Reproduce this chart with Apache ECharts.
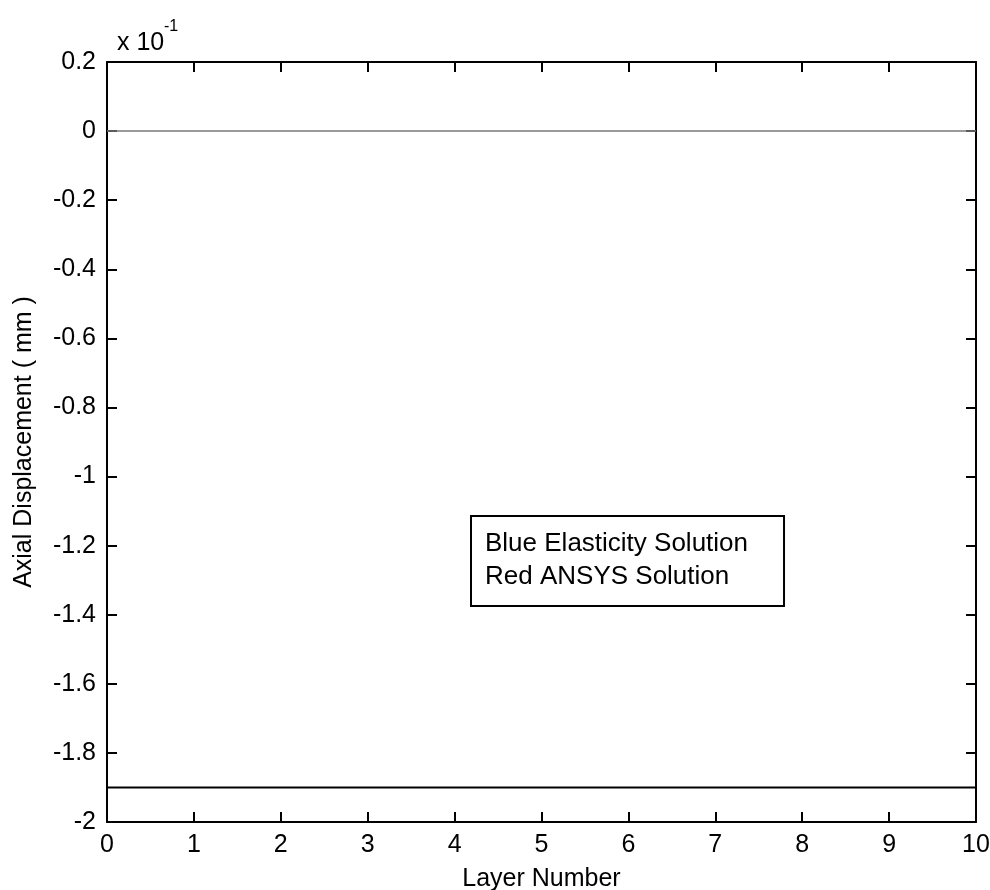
<!DOCTYPE html>
<html>
<head>
<meta charset="utf-8">
<script src="https://cdn.jsdelivr.net/npm/echarts@6/dist/echarts.min.js"></script>
<style>
  html, body { margin: 0; padding: 0; background: #fff; }
  #chart { width: 990px; height: 890px; }
</style>
</head>
<body>
<div id="chart"></div>
<script>
const FONT = "Liberation Sans";

// layer numbers along the x axis
const layers = [0, 1, 2, 3, 4, 5, 6, 7, 8, 9, 10];
// axial displacement (x 10^-1 mm)
const elasticity = [-1.9, -1.9, -1.9, -1.9, -1.9, -1.9, -1.9, -1.9, -1.9, -1.9, -1.9];
const ansys = [0, 0, 0, 0, 0, 0, 0, 0, 0, 0, 0];
// y tick labels
const yTicks = [0.2, 0, -0.2, -0.4, -0.6, -0.8, -1, -1.2, -1.4, -1.6, -1.8, -2];
const legendNames = ["Blue Elasticity Solution", "Red ANSYS Solution"];

const yMin = Math.min(...yTicks), yMax = Math.max(...yTicks);

const axisBase = {
  type: "value",
  axisLine: { show: true, onZero: false, lineStyle: { color: "#000", width: 2 } },
  axisTick: { show: true, inside: true, length: 10, lineStyle: { color: "#000", width: 2 } },
  splitLine: { show: false }
};

const xLabel = { fontFamily: FONT, fontSize: 25, color: "#000", margin: 11 };
const yLabel = {
  fontFamily: FONT, fontSize: 25, color: "#000", margin: 11,
  formatter: v => String(+v.toFixed(1))
};

const chart = echarts.init(document.getElementById("chart"));
chart.setOption({
  backgroundColor: "#fff",
  animation: false,
  grid: { left: 107, right: 14, top: 62, bottom: 68, outerBoundsMode: "none", containLabel: false },
  xAxis: [
    { ...axisBase, position: "bottom", min: 0, max: 10, interval: 1, axisLabel: xLabel,
      name: "Layer Number", nameLocation: "middle", nameGap: 45,
      nameTextStyle: { fontFamily: FONT, fontSize: 25, color: "#000" } },
    { ...axisBase, position: "top", min: 0, max: 10, interval: 1, axisLabel: { show: false } }
  ],
  yAxis: [
    { ...axisBase, position: "left", min: yMin, max: yMax, interval: 0.2, axisLabel: yLabel,
      name: "Axial Displacement ( mm )", nameLocation: "middle", nameGap: 70,
      nameTextStyle: { fontFamily: FONT, fontSize: 25, color: "#000" } },
    { ...axisBase, position: "right", min: yMin, max: yMax, interval: 0.2, axisLabel: { show: false } }
  ],
  legend: {
    orient: "vertical", left: 471, top: 516,
    data: legendNames,
    icon: "rect", itemWidth: 0, itemHeight: 0, itemGap: 7,
    padding: [15, 36, 16, 9],
    borderColor: "#000", borderWidth: 2,
    selectedMode: false,
    textStyle: { fontFamily: FONT, fontSize: 26, color: "#000" }
  },
  graphic: [
    { type: "text", left: 117, top: 31,
      style: { text: "x 10", fontFamily: FONT, fontSize: 25, fill: "#000" } },
    { type: "text", left: 164, top: 19,
      style: { text: "-1", fontFamily: FONT, fontSize: 16, fill: "#000" } }
  ],
  series: [
    { name: legendNames[0], type: "line", showSymbol: false,
      data: layers.map((x, i) => [x, elasticity[i]]),
      lineStyle: { color: "#000", width: 2 } },
    { name: legendNames[1], type: "line", showSymbol: false,
      data: layers.map((x, i) => [x, ansys[i]]),
      lineStyle: { color: "#7a7a7a", width: 1.5 } }
  ]
});
</script>
</body>
</html>
